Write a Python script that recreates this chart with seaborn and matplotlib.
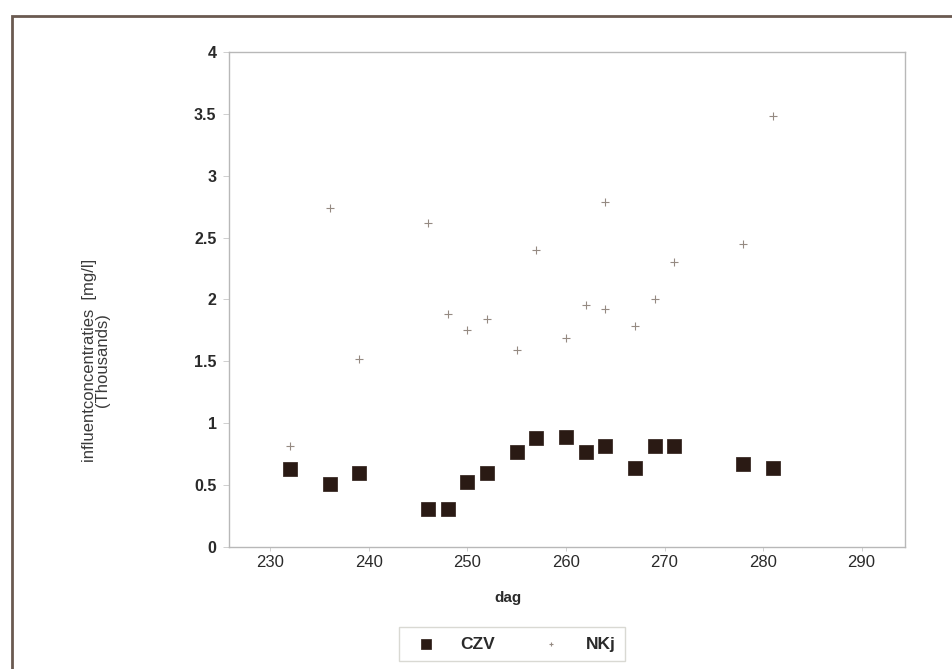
import matplotlib
matplotlib.use("Agg")
import matplotlib.pyplot as plt
import seaborn as sns
import pandas as pd
from matplotlib.patches import Rectangle

# ---- data (values in thousands of mg/l) ----
czv_days = [232, 236, 239, 246, 248, 250, 252, 255, 257, 260, 262, 264, 267, 269, 271, 278, 281]
czv_vals = [0.63, 0.51, 0.595, 0.307, 0.307, 0.523, 0.60, 0.77, 0.88, 0.89, 0.765, 0.82, 0.636, 0.82, 0.816, 0.668, 0.636]

nkj_days = [232, 236, 239, 246, 248, 250, 252, 255, 257, 260, 262, 264, 264, 267, 269, 271, 278, 281]
nkj_vals = [0.82, 2.74, 1.52, 2.62, 1.88, 1.75, 1.84, 1.59, 2.40, 1.69, 1.955, 1.92, 2.79, 1.786, 2.00, 2.305, 2.446, 3.48]

x_ticks = [230, 240, 250, 260, 270, 280, 290]
y_ticks = [0, 0.5, 1, 1.5, 2, 2.5, 3, 3.5, 4]
y_ticklabels = ["0", "0.5", "1", "1.5", "2", "2.5", "3", "3.5", "4"]

sns.set_theme(style="white")
plt.rcParams['font.family'] = ['Liberation Sans', 'DejaVu Sans']

fig = plt.figure(figsize=(9.53, 6.69), dpi=100)
ax = fig.add_axes([0.2403, 0.1824, 0.7093, 0.7399])

czv_df = pd.DataFrame({"dag": czv_days, "val": czv_vals})
nkj_df = pd.DataFrame({"dag": nkj_days, "val": nkj_vals})

sns.scatterplot(data=czv_df, x="dag", y="val", marker="s", s=110,
                color="#2a1a14", edgecolor="#2a1a14", linewidth=0.5, ax=ax, label="CZV", zorder=3)
sns.scatterplot(data=nkj_df, x="dag", y="val", marker="+", s=28,
                color="#958a82", linewidth=0.8, ax=ax, label="NKj", zorder=3)

ax.set_xlim(225.8, 294.4)
ax.set_ylim(0, 4)
ax.set_xticks(x_ticks)
ax.set_xticklabels([str(t) for t in x_ticks], fontsize=12, color="#2a2a2a")
ax.set_yticks(y_ticks)
ax.set_yticklabels(y_ticklabels, fontsize=11.5, fontweight="bold", color="#2a2a2a")
ax.tick_params(axis="x", which="major", direction="out", length=3, width=0.6,
               color="#c8c8c8", pad=3, bottom=True)
ax.tick_params(axis="y", which="major", direction="out", length=4, width=0.6,
               color="#c8c8c8", pad=5, left=True)

for sp in ax.spines.values():
    sp.set_color("#b8b8b8")
    sp.set_linewidth(1.0)

ax.set_xlabel("")
ax.set_ylabel("")
fig.text(508 / 953, 1 - 598 / 669, "dag", fontsize=11, fontweight="bold",
         color="#2a2a2a", ha="center", va="center")
fig.text(96 / 953, 1 - 360 / 669, "influentconcentraties  [mg/l]\n(Thousands)",
         fontsize=12, color="#3a3a3a", rotation=90, ha="center", va="center",
         multialignment="center", linespacing=0.85)

leg = ax.legend(loc="center", bbox_to_anchor=(0.537, 0.0374), bbox_transform=fig.transFigure,
                ncol=2, frameon=True, fancybox=False, fontsize=12.5, handletextpad=1.0,
                columnspacing=2.2, borderpad=0.55, markerscale=0.65)
leg.get_frame().set_edgecolor("#d0d0c8")
leg.get_frame().set_linewidth(1.0)
for t in leg.get_texts():
    t.set_fontweight("bold")
    t.set_color("#2a2a2a")

# outer frame of the scanned page
frame = Rectangle((12 / 953, -0.05), 1.2, 1 - 16 / 669 + 0.05, transform=fig.transFigure,
                  fill=False, edgecolor="#6a5a50", linewidth=2.0, clip_on=False)
fig.patches.append(frame)

fig.savefig("out.png", dpi=100)
